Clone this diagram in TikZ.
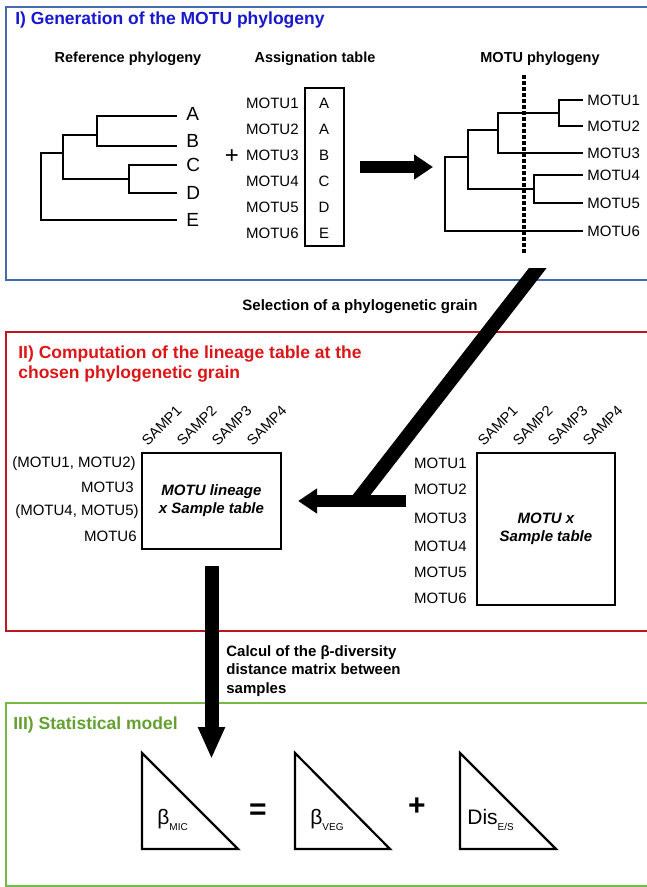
\documentclass[tikz,border=0pt]{standalone}
\usepackage{fontspec}
\setmainfont{Liberation Sans}
\usetikzlibrary{arrows.meta,positioning}

\definecolor{titleblue}{RGB}{24,24,205}
\definecolor{frameblue}{RGB}{68,108,172}
\definecolor{titlered}{RGB}{218,22,24}
\definecolor{framered}{RGB}{190,22,32}
\definecolor{titlegreen}{RGB}{100,160,48}
\definecolor{framegreen}{RGB}{118,186,70}

\newcommand{\fsz}[1]{\fontsize{#1}{#1}\selectfont}
\newcommand{\trilabel}[2]{{\fsz{21}#1}\raisebox{-6pt}{\fsz{10}#2}}

\tikzset{every picture/.style={line width=0.75pt}}

\begin{document}
\begin{tikzpicture}[x=1pt,y=1pt,yscale=-1,
  frame/.style={line width=2pt},
  branch/.style={line width=1.6pt},
  tabbox/.style={draw,line width=2.2pt,inner sep=0pt},
  fatarrow/.style={line width=12pt,-{Triangle[width=24pt,length=19pt]}},
  lbl/.style={inner sep=0pt,font=\fsz{15}},
  bigleaf/.style={inner sep=0pt,font=\fsz{19}},
  subhead/.style={inner sep=0pt,font=\bfseries\fsz{14.5}},
  samp/.style={inner sep=0pt,font=\fsz{14.5},rotate=45,anchor=south west},
  tabtext/.style={font=\bfseries\itshape\fontsize{15}{18}\selectfont,align=center},
  tri/.style={line width=2.2pt}
]
\useasboundingbox (0,0) rectangle (646,887);

%Frames
\draw[frameblue,frame] (6,7) rectangle (652,280);
\draw[framered,frame] (6,332) rectangle (652,631);
\draw[framegreen,frame] (6,703) rectangle (652,886);

% Text Node
\node[anchor=west,inner sep=0pt,text=titleblue,font=\bfseries\fsz{17.5}] (secI) at (15,20) {I) Generation of the MOTU phylogeny};
\node[anchor=north west,inner sep=0pt,align=left,text=titlered,font=\bfseries\fontsize{17.5}{20}\selectfont] (secII) at (18,345) {II) Computation of the lineage table at the\\chosen phylogenetic grain};
\node[anchor=west,inner sep=0pt,text=titlegreen,font=\bfseries\fsz{17.5}] (secIII) at (13,725) {III) Statistical model};

% Text Node
\node[subhead] (refT) at (128,59) {Reference phylogeny};
\node[subhead] (assT) at (315,59) {Assignation table};
\node[subhead] (motT) at (540,59) {MOTU phylogeny};

%Reference phylogeny
\coordinate (tA) at (177,116);
\coordinate (tB) at (177,146);
\coordinate (tC) at (177,165);
\coordinate (tD) at (177,193);
\coordinate (tE) at (177,220);
\node[bigleaf,right=9pt of tA,yshift=2pt] (lA) {A};
\node[bigleaf,right=9pt of tB,yshift=5pt] (lB) {B};
\foreach \leaf in {C,D,E}
  \node[bigleaf,right=9pt of t\leaf] (l\leaf) {\leaf};
\coordinate (nAB) at (97,135);
\coordinate (nCD) at (129,179);
\coordinate (nABCD) at (63,153);
\coordinate (rroot) at (41,187);
\draw[branch] (tA) -| (nAB) |- (tB);
\draw[branch] (tC) -| (nCD) |- (tD);
\draw[branch] (nAB) -| (nABCD) |- (nCD);
\draw[branch] (nABCD) -| (rroot) |- (tE);

% Text Node
\node[inner sep=0pt,font=\fsz{24}] (plus) at (232,157) {+};

%Assignation table
\node[tabbox,minimum width=39pt,minimum height=158pt] (assign) at (324.5,167) {};
\foreach \i/\l in {1/A,2/A,3/B,4/C,5/D,6/E} {
  \node[lbl] (aL\i) at (324,77+26*\i) {\l};
  \node[lbl,anchor=east] (aM\i) at (299,77+26*\i) {MOTU\i};
}

%MOTU phylogeny
\foreach \i/\y in {1/100,2/126,3/153,4/175,5/203,6/231} {
  \coordinate (tM\i) at (583,\y);
  \node[lbl,right=4pt of tM\i] (lM\i) {MOTU\i};
}
\coordinate (n12) at (559,113);
\coordinate (n123) at (498,130);
\coordinate (n45) at (534,189);
\coordinate (nA) at (468,157);
\coordinate (mroot) at (445,194);
\draw[branch] (tM1) -| (n12) |- (tM2);
\draw[branch] (n12) -| (n123) |- (tM3);
\draw[branch] (tM4) -| (n45) |- (tM5);
\draw[branch] (n123) -| (nA) |- (n45);
\draw[branch] (nA) -| (mroot) |- (tM6);
\coordinate (cutTop) at (524,75);
\coordinate (cutBot) at (524,253);
\draw[line width=4pt,dash pattern=on 4pt off 2pt] (cutTop) -- (cutBot);

%Arrow to MOTU phylogeny
\draw[fatarrow,shorten <=15pt,shorten >=12pt] (assign.east) -- (assign.east -| mroot);

% Text Node
\node[inner sep=0pt,font=\bfseries\fsz{15}] (sel) at (360,307) {Selection of a phylogenetic grain};

%Lineage table
\node[tabbox,tabtext,minimum width=139pt,minimum height=96pt] (lin) at (211.5,501) {MOTU lineage\\x Sample table};
\node[lbl,anchor=east] (g12) at (136,464) {(MOTU1, MOTU2)};
\node[lbl,anchor=east] (g3) at (134,487) {MOTU3};
\node[lbl,anchor=east] (g45) at (139,512) {(MOTU4, MOTU5)};
\node[lbl,anchor=east] (g6) at (137,536) {MOTU6};

%MOTU x sample table
\node[tabbox,tabtext,minimum width=138pt,minimum height=152pt] (mx) at (546,529) {MOTU x\\Sample table};
\foreach \i/\y in {1/463,2/489,3/518,4/546,5/572,6/598}
  \node[lbl,anchor=east] (rM\i) at (467,\y) {MOTU\i};

%Sample labels
\foreach \i in {1,...,4} {
  \node[samp] (ls\i) at (113+35*\i,447) {SAMP\i};
  \node[samp] (rs\i) at (449+35*\i,447) {SAMP\i};
}

%Grain selection
\coordinate (grain) at (544,260);
\coordinate (joint) at (406,501);
\coordinate (bend) at (357,501);
\begin{scope}
  \clip (300,268) rectangle (600,520);
  \draw[line width=14pt] (grain) -- (bend);
\end{scope}
\draw[fatarrow,shorten >=16pt] (joint) -- (lin.east);

%Arrow to statistical model
\coordinate (stat) at (210,759);
\draw[line width=14pt,-{Triangle[width=25pt,length=32pt]},shorten <=16pt] (lin.south) -- (lin.south |- stat);

% Text Node
\node[anchor=north west,inner sep=0pt,align=left,font=\bfseries\fontsize{15}{18.5}\selectfont] (calc) at (226,645) {Calcul of the β-diversity\\distance matrix between\\samples};

%Triangles
\draw[tri] (142,753) -- (142,849) -- (238,849) -- cycle;
\draw[tri] (295,753) -- (295,849) -- (390,849) -- cycle;
\draw[tri] (460,753) -- (460,849) -- (556,849) -- cycle;
\node[anchor=west,inner sep=0pt] (bmic) at (157,820) {\trilabel{β}{MIC}};
\node[anchor=west,inner sep=0pt] (bveg) at (310,820) {\trilabel{β}{VEG}};
\node[anchor=west,inner sep=0pt] (dis) at (467,820) {\trilabel{Dis}{E/S}};
\node[inner sep=0pt,font=\bfseries\fsz{30}] (eq) at (258,812) {=};
\node[inner sep=0pt,font=\bfseries\fsz{30}] (pl) at (417,807) {+};

\end{tikzpicture}
\end{document}
